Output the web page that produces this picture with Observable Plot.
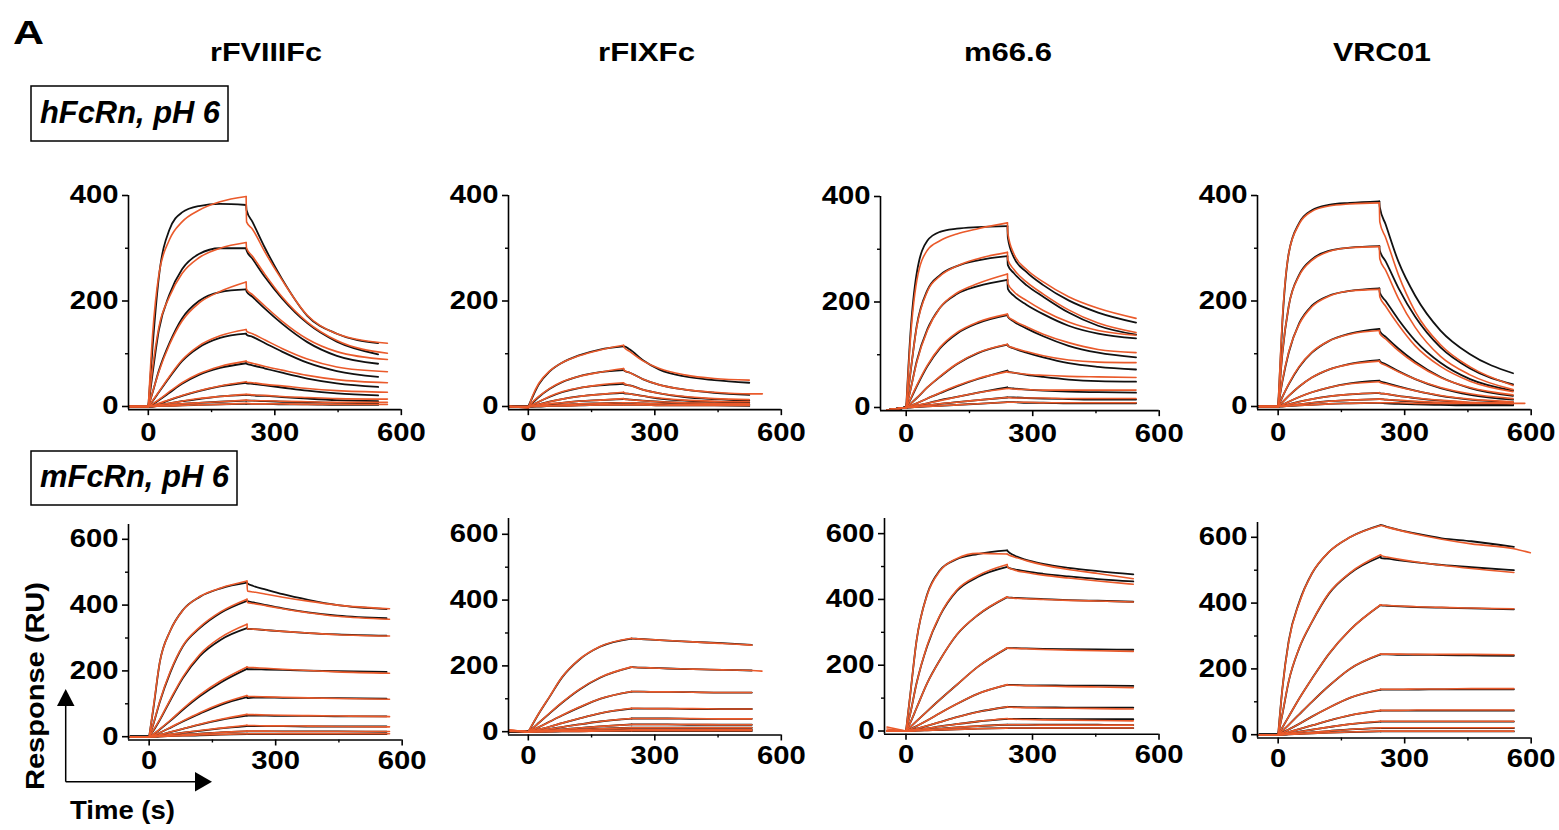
<!DOCTYPE html>
<html><head><meta charset="utf-8">
<script src="https://cdn.jsdelivr.net/npm/d3@7"></script>
<script src="https://cdn.jsdelivr.net/npm/@observablehq/plot@0.6"></script>
<style>
html,body{margin:0;padding:0;background:#fff;}
body{width:1559px;height:830px;position:relative;overflow:hidden;font-family:"Liberation Sans",Arial,sans-serif;}
.panel{position:absolute;}
.panel svg{max-width:none !important;overflow:visible;}
#overlay{position:absolute;left:0;top:0;pointer-events:none;}
</style></head><body>
<script>
// ---------- labels & ticks ----------
const antibodies = ["rFVIIIFc", "rFIXFc", "m66.6", "VRC01"];
const receptors = ["hFcRn, pH 6", "mFcRn, pH 6"];
const yTicksTop = [0, 200, 400], yMinorTop = [100, 300];
const yTicksBottom = [0, 200, 400, 600], yMinorBottom = [100, 300, 500];
const xTicks = [0, 300, 600], xMinor = [150, 450];

// ---------- time grid (s) ----------
const assocTimes = [-45, 0, 10, 25, 50, 80, 120, 170];      // then end of injection
const dissOffsets = [1, 15, 45, 85, 145, 215];              // seconds after end of injection, then end
const injectionEnd = [232, 226, 240, 240, 232, 245, 240, 243];
const dataEnd      = [545, 524, 545, 557, 563, 530, 539, 559];
const fitEnd       = [567, 524, 545, 557, 570, 530, 539, 559];
// [curve index, time, response] of a fit line drawn a little longer than the others
const fitExtension = [null, [1, 555, 24], null, [8, 585, 6], null, [1, 554, 184], null, [0, 598, 553]];

// ---------- responses (RU) : each row = one concentration ----------
// columns: -45, 0, 10, 25, 50, 80, 120, 170, E, E+1, E+15, E+45, E+85, E+145, E+215, end
const rFVIIIFc_h_data = [
 [0,0,112,245,335,368,380,384,382,372,350,300,242,172,138,120],
 [0,0,62,145,212,260,289,300,300,296,280,245,205,158,123,99],
 [0,0,26,68,120,167,200,217,222,218,208,185,157,122,96,81],
 [0,0,10,27,55,86,112,130,138,136,132,120,104,83,67,56],
 [0,0,4,12,26,43,60,73,82,81,78,72,64,53,44,37],
 [0,0,2,5,12,20,29,38,45,44,43,40,36,30,25,21],
 [0,0,1,3,6,10,14,19,22,22,21,20,18,15,12,10],
 [0,0,0,1,3,5,7,9,11,11,11,10,9,8,7,6],
 [0,0,0,1,1,2,3,4,5,5,5,5,4,4,3,3]];
const rFVIIIFc_h_fit = [
 [0,0,135,250,316,350,372,388,398,350,336,292,240,173,138,120],
 [0,0,72,150,208,252,282,300,311,300,285,250,208,160,125,101],
 [0,0,27,66,117,162,196,218,236,222,212,190,162,128,104,89],
 [0,0,11,28,57,88,115,134,146,143,138,126,110,90,75,66],
 [0,0,5,13,28,45,62,76,86,85,82,76,69,59,51,45],
 [0,0,2,6,13,21,30,39,47,46,45,42,39,34,30,27],
 [0,0,1,3,6,10,15,19,23,23,22,21,19,17,15,14],
 [0,0,0,1,3,5,7,9,12,12,11,11,10,9,8,8],
 [0,0,0,1,1,2,3,4,6,6,5,5,5,4,4,4]];

const rFIXFc_h_data = [
 [0,0,18,42,66,83,97,108,114,114,108,88,70,57,50,45],
 [0,0,7,18,33,46,57,65,69,68,64,52,41,32,26,22],
 [0,0,3,9,18,27,35,40,43,42,40,32,25,18,14,11],
 [0,0,1,4,9,14,19,23,26,25,24,20,15,11,9,7],
 [0,0,1,2,4,7,10,12,14,14,13,11,9,7,5,4],
 [0,0,0,1,2,3,5,6,7,7,7,6,5,4,3,3],
 [0,0,0,0,1,1,2,3,3,3,3,3,2,2,2,1]];
const rFIXFc_h_fit = [
 [0,-3,20,44,67,83,96,107,116,112,104,87,72,60,53,50],
 [0,-3,8,19,34,47,57,65,72,69,64,52,41,32,27,24],
 [0,-2,3,9,19,28,35,41,45,43,40,32,25,19,15,13],
 [0,-1,1,4,9,14,19,23,27,26,24,20,16,12,10,9],
 [0,0,1,2,5,7,10,12,15,14,13,11,9,7,6,5],
 [0,0,0,1,2,3,5,6,7,7,7,6,5,4,4,3],
 [0,0,0,0,1,1,2,3,3,3,3,3,2,2,2,2]];

const m666_h_data = [
 [-5,0,140,255,316,333,339,342,344,322,285,257,232,203,180,161],
 [-5,0,65,155,222,251,268,279,287,270,255,232,210,180,155,138],
 [-5,0,33,88,148,189,215,230,242,225,212,195,177,155,140,131],
 [-5,0,15,40,78,112,140,160,175,172,163,150,135,117,104,95],
 [-5,0,7,18,38,58,82,103,119,117,112,104,95,84,77,72],
 [-5,0,3,8,17,27,40,54,70,68,66,62,58,53,50,49],
 [-5,0,1,4,8,14,20,28,38,37,36,34,32,30,29,28],
 [-5,0,1,2,4,7,10,14,19,19,19,18,17,16,15,15],
 [-5,0,0,1,2,3,5,7,10,10,10,9,9,8,8,8]];
const m666_h_fit = [
 [-5,0,130,240,298,316,329,339,350,330,292,262,238,210,188,169],
 [-5,0,66,153,220,249,268,282,294,280,262,238,215,185,160,142],
 [-5,0,33,86,146,189,217,235,253,235,220,203,184,162,146,137],
 [-5,0,16,42,80,114,142,162,177,173,165,153,139,123,110,104],
 [-5,0,7,18,38,59,83,104,120,117,113,106,98,90,86,85],
 [-5,0,3,8,17,28,41,55,68,67,66,63,61,59,58,57],
 [-5,0,1,4,8,13,20,28,36,36,35,34,33,33,33,33],
 [-5,0,1,2,4,7,10,14,19,19,18,18,18,17,17,17],
 [-5,0,0,1,2,3,5,7,10,10,10,10,9,9,9,9]];

const VRC01_h_data = [
 [0,0,160,290,348,372,382,386,389,378,345,275,210,144,99,63],
 [0,0,100,190,250,279,295,301,304,296,275,225,170,112,72,42],
 [0,0,47,102,158,191,210,219,224,216,200,165,125,83,52,30],
 [0,0,18,42,75,102,124,138,147,143,132,110,85,56,35,20],
 [0,0,8,20,38,55,70,81,88,86,80,67,52,35,22,13],
 [0,0,3,9,18,27,36,44,49,48,45,38,30,20,13,8],
 [0,0,1,4,9,14,19,23,26,25,24,20,16,11,7,4],
 [0,0,1,2,4,7,10,12,14,14,13,11,9,6,4,3],
 [0,0,0,1,2,3,5,6,7,7,6,5,4,3,2,2]];
const VRC01_h_fit = [
 [0,0,165,290,346,370,380,384,386,350,320,250,180,117,75,40],
 [0,0,102,190,248,277,294,301,303,280,258,205,150,95,60,32],
 [0,0,49,103,156,189,209,219,222,208,190,155,115,76,48,28],
 [0,0,18,43,76,103,124,137,144,138,128,106,82,55,36,22],
 [0,0,8,20,38,55,70,80,86,84,78,66,52,36,24,15],
 [0,0,3,9,18,27,36,43,47,46,43,37,30,21,14,9],
 [0,0,1,4,9,14,19,23,26,25,24,20,16,12,8,6],
 [0,0,1,2,4,7,10,12,14,14,13,12,10,8,7,6],
 [0,0,0,1,2,3,5,6,7,7,7,7,6,6,6,6]];

const rFVIIIFc_m_data = [
 [0,0,85,225,322,385,425,451,468,466,458,447,433,416,400,388],
 [0,0,38,105,195,275,330,377,413,412,408,400,390,378,368,360],
 [0,0,18,50,110,178,245,295,330,328,327,324,320,315,311,307],
 [0,0,7,22,48,82,123,165,206,205,205,204,203,201,199,197],
 [0,0,4,12,27,46,70,97,120,117,119,119,118,118,117,116],
 [0,0,2,6,14,24,37,51,64,64,64,64,63,63,62,62],
 [0,0,1,3,7,12,18,25,32,32,32,32,32,31,31,31],
 [0,0,0,1,3,6,9,13,16,16,16,16,16,16,16,15],
 [0,0,0,1,2,3,4,6,8,8,8,8,8,8,8,8]];
const rFVIIIFc_m_fit = [
 [0,0,90,225,322,384,426,452,473,443,440,433,424,412,400,389],
 [0,0,40,107,198,277,333,380,418,408,405,398,389,377,366,357],
 [0,0,20,52,113,182,250,302,342,328,327,324,320,315,310,306],
 [0,0,8,23,50,85,127,170,212,211,210,208,205,201,197,193],
 [0,0,4,12,28,48,73,100,125,123,122,121,120,118,116,114],
 [0,0,2,6,14,24,38,53,68,67,67,66,65,64,63,61],
 [0,0,1,3,7,12,19,26,35,34,34,33,33,32,31,30],
 [0,0,0,1,3,6,9,13,17,17,17,17,16,16,16,16],
 [0,0,0,1,2,3,5,7,9,9,9,9,9,9,9,9]];

const rFIXFc_m_data = [
 [2,0,22,55,105,165,218,258,283,283,282,280,277,273,269,264],
 [1,0,10,27,55,88,127,164,196,196,195,194,192,190,188,186],
 [0,0,5,14,30,49,73,100,122,122,122,121,121,120,119,119],
 [0,0,2,7,15,26,40,56,70,70,70,70,70,69,69,69],
 [0,0,1,4,8,14,22,31,40,40,40,40,40,39,39,39],
 [0,0,1,2,4,7,11,16,22,22,22,22,22,21,21,21],
 [0,0,0,1,2,4,6,9,12,12,12,12,12,12,12,12],
 [0,0,0,0,1,2,3,4,6,6,6,6,6,6,6,6],
 [0,0,0,0,0,1,1,2,2,2,2,2,2,2,2,2]];
const rFIXFc_m_fit = [
 [5,0,23,56,106,166,219,259,284,283,282,280,277,273,268,263],
 [5,0,10,27,56,89,128,165,197,196,195,194,192,190,188,186],
 [4,0,5,14,30,50,74,100,122,122,122,121,121,120,119,119],
 [4,0,2,7,15,26,40,56,71,71,71,70,70,70,69,69],
 [3,0,1,4,8,14,22,31,40,40,40,40,40,40,39,39],
 [3,0,1,2,4,7,11,16,22,22,22,22,22,22,21,21],
 [2,0,0,1,2,4,6,9,12,12,12,12,12,12,12,12],
 [2,0,0,0,1,2,3,4,6,6,6,6,6,6,6,6],
 [1,0,0,0,0,1,1,2,3,3,3,3,3,3,3,3]];

const m666_m_data = [
 [0,0,110,275,415,488,522,538,549,547,535,520,508,496,486,476],
 [0,0,52,145,257,349,425,468,499,498,492,485,478,470,462,455],
 [0,0,25,70,145,215,292,352,407,406,405,403,401,398,396,393],
 [0,0,12,30,60,95,140,195,252,252,252,251,250,249,248,247],
 [0,0,5,15,32,54,82,113,140,140,140,139,139,138,138,137],
 [0,0,2,7,16,27,42,58,73,73,73,72,72,71,71,71],
 [0,0,1,4,8,14,21,29,37,37,37,37,36,36,36,36],
 [0,0,0,2,4,7,11,15,19,19,19,19,19,19,19,18],
 [0,0,0,1,2,3,5,7,9,9,9,9,9,9,9,9]];
const m666_m_fit = [
 [12,0,110,275,413,486,524,540,538,537,530,518,505,491,479,463],
 [6,0,52,145,259,351,428,472,506,498,490,482,474,465,456,446],
 [0,0,25,70,145,215,293,353,408,406,404,402,400,397,395,392],
 [0,0,12,30,60,95,140,195,253,252,251,250,248,246,244,242],
 [0,0,5,15,32,54,82,113,141,140,139,138,137,135,134,132],
 [0,0,2,7,16,27,42,58,74,73,72,71,70,69,68,67],
 [0,0,1,4,8,14,21,29,38,37,36,35,34,33,32,31],
 [0,0,0,2,4,7,11,15,19,19,19,19,18,18,18,18],
 [0,0,0,1,2,3,5,7,9,9,9,9,9,9,9,9]];

const VRC01_m_data = [
 [0,0,140,285,403,490,555,600,637,637,632,622,611,597,588,571],
 [0,0,62,162,263,342,428,490,541,537,535,530,524,516,509,500],
 [0,0,22,55,110,170,245,318,394,393,392,390,388,386,384,381],
 [0,0,12,30,62,100,148,200,244,244,244,243,243,242,241,240],
 [0,0,6,16,33,55,82,112,137,137,137,137,137,138,138,138],
 [0,0,3,8,17,28,43,59,73,73,73,73,73,73,73,73],
 [0,0,1,4,9,15,23,32,40,40,40,40,40,40,40,40],
 [0,0,0,2,4,7,11,16,20,20,20,20,20,20,20,20],
 [0,0,0,1,2,4,6,8,10,10,10,10,10,10,10,10]];
const VRC01_m_fit = [
 [0,0,140,283,401,490,555,600,636,636,631,621,609,594,580,565],
 [0,0,63,163,264,343,430,492,547,545,540,533,525,515,505,493],
 [0,0,22,55,110,170,245,318,395,394,393,391,389,387,385,383],
 [0,0,12,30,62,100,148,200,245,245,245,245,244,244,244,243],
 [0,0,6,16,33,55,82,112,138,138,138,138,139,139,140,140],
 [0,0,3,8,17,28,43,59,74,74,74,74,75,75,75,75],
 [0,0,1,4,9,15,23,32,41,41,41,41,41,41,41,41],
 [0,0,0,2,4,7,11,16,21,21,21,21,21,21,21,21],
 [0,0,0,1,2,4,6,8,11,11,11,11,11,11,11,11]];

const panelData = [
 [rFVIIIFc_h_data, rFVIIIFc_h_fit], [rFIXFc_h_data, rFIXFc_h_fit], [m666_h_data, m666_h_fit], [VRC01_h_data, VRC01_h_fit],
 [rFVIIIFc_m_data, rFVIIIFc_m_fit], [rFIXFc_m_data, rFIXFc_m_fit], [m666_m_data, m666_m_fit], [VRC01_m_data, VRC01_m_fit]];

// ---------- layout (page pixels) ----------
const PX_PER_S = 0.4217;
const layout = [
 {x0:147.7, xMin:-47, y0:406,   k:0.5275, yMin:-6,  yMax:400},
 {x0:527.7, xMin:-47, y0:406,   k:0.5275, yMin:-6,  yMax:400},
 {x0:905.7, xMin:-61, y0:406.7, k:0.5275, yMin:-6,  yMax:400},
 {x0:1277.3,xMin:-49, y0:406,   k:0.5275, yMin:-6,  yMax:400},
 {x0:148.3, xMin:-49, y0:736,   k:0.329,  yMin:-10, yMax:645},
 {x0:527.7, xMin:-47, y0:730.7, k:0.329,  yMin:-10, yMax:648},
 {x0:905.7, xMin:-51, y0:730.7, k:0.329,  yMin:-10, yMax:646},
 {x0:1277.3,xMin:-49, y0:734,   k:0.329,  yMin:-10, yMax:645}];

const DATA_COLOR = "#111111", FIT_COLOR = "#ea5a2b";
const FONT = "'Liberation Sans', Arial, Helvetica, sans-serif";
const LABEL_STRETCH = 1.17;

function buildRows(curves, kind, pi) {
  const E = injectionEnd[pi];
  const T = [...assocTimes, E, ...dissOffsets.map(o => E + o), kind === "fit" ? fitEnd[pi] : dataEnd[pi]];
  const rows = [];
  curves.forEach((vals, ci) => {
    const seg = (name, a, b) => { for (let j = a; j <= b; j++) rows.push({t: T[j], v: vals[j], key: ci + name}); };
    seg("b", 0, 1); seg("a", 1, 8); seg("d", 8, 15);
    const ext = fitExtension[pi];
    if (kind === "fit" && ext && ext[0] === ci) rows.push({t: ext[1], v: ext[2], key: ci + "d"});
  });
  return rows;
}

const mL = 72, mR = 34, mT = 12, mB = 48;
layout.forEach((L, pi) => {
  const top = pi < 4;
  const [data, fit] = panelData[pi];
  const W = mL + (600 - L.xMin) * PX_PER_S + mR;
  const H = mT + (L.yMax - L.yMin) * L.k + mB;
  const left = L.x0 + L.xMin * PX_PER_S - mL;
  const topPx = L.y0 - L.yMax * L.k - mT;
  const axisText = {fontSize: 25, fontWeight: "bold", fontFamily: FONT};
  const chart = Plot.plot({
    width: W, height: H, marginLeft: mL, marginRight: mR, marginTop: mT, marginBottom: mB,
    style: {fontFamily: FONT, fontWeight: "bold", fontSize: "25px", background: "transparent", overflow: "visible"},
    x: {domain: [L.xMin, 600], axis: null, label: null},
    y: {domain: [L.yMin, L.yMax], axis: null, label: null},
    marks: [
      Plot.line(buildRows(data, "data", pi), {x: "t", y: "v", z: "key", stroke: DATA_COLOR, strokeWidth: 1.8, curve: "monotone-x"}),
      Plot.line(buildRows(fit, "fit", pi), {x: "t", y: "v", z: "key", stroke: FIT_COLOR, strokeWidth: 1.6, curve: "monotone-x"}),
      Plot.ruleX([L.xMin], {y1: L.yMin, y2: L.yMax, stroke: "#000", strokeWidth: 1.6}),
      Plot.ruleY([L.yMin], {x1: L.xMin, x2: 600, stroke: "#000", strokeWidth: 1.6}),
      Plot.axisY(top ? yTicksTop : yTicksBottom, {tickSize: 6, tickPadding: 4, strokeWidth: 1.6, label: null, ...axisText}),
      Plot.axisY(top ? yMinorTop : yMinorBottom, {tickSize: 3, strokeWidth: 1.4, label: null, tickFormat: () => ""}),
      Plot.axisX(xTicks, {tickSize: 6, tickPadding: top ? 8 : 5, strokeWidth: 1.6, label: null, ...axisText}),
      Plot.axisX(xMinor, {tickSize: 3, strokeWidth: 1.4, label: null, tickFormat: () => ""})
    ]
  });
  const div = document.createElement("div");
  div.className = "panel";
  div.style.left = left + "px";
  div.style.top = topPx + "px";
  div.style.width = W + "px";
  div.style.height = H + "px";
  div.appendChild(chart);
  document.body.appendChild(div);
  // widen the bold tick numerals a little, as in the original figure
  d3.select(chart).selectAll("text").each(function() {
    const w = this.getComputedTextLength();
    if (w > 0) { this.setAttribute("textLength", w * LABEL_STRETCH); this.setAttribute("lengthAdjust", "spacingAndGlyphs"); }
  });
});

// ---------- annotations ----------
const svg = d3.select("body").append("svg").attr("id", "overlay")
  .attr("width", 1559).attr("height", 830).attr("font-family", FONT).attr("font-weight", "bold");

svg.append("text").attr("x", 13).attr("y", 44).attr("font-size", 33)
  .attr("textLength", 31).attr("lengthAdjust", "spacingAndGlyphs").text("A");

const titleX = [266, 646.5, 1008, 1382], titleLen = [112, 97, 88, 98];
antibodies.forEach((name, i) => {
  svg.append("text").attr("x", titleX[i]).attr("y", 61).attr("text-anchor", "middle")
    .attr("font-size", 26).attr("textLength", titleLen[i]).attr("lengthAdjust", "spacingAndGlyphs").text(name);
});

const boxes = [{x: 31, y: 86, w: 197, h: 55, tx: 40, ty: 123, len: 180},
               {x: 31, y: 451, w: 206, h: 54, tx: 40, ty: 487, len: 189}];
receptors.forEach((name, i) => {
  const b = boxes[i];
  svg.append("rect").attr("x", b.x).attr("y", b.y).attr("width", b.w).attr("height", b.h)
    .attr("fill", "none").attr("stroke", "#000").attr("stroke-width", 1.5);
  svg.append("text").attr("x", b.tx).attr("y", b.ty).attr("font-size", 32).attr("font-style", "italic")
    .attr("textLength", b.len).attr("lengthAdjust", "spacingAndGlyphs").text(name);
});

svg.append("text").attr("transform", "translate(44,686) rotate(-90)").attr("text-anchor", "middle")
  .attr("font-size", 26).attr("textLength", 208).attr("lengthAdjust", "spacingAndGlyphs").text("Response (RU)");
svg.append("text").attr("x", 70).attr("y", 818.5).attr("font-size", 25.5)
  .attr("textLength", 105).attr("lengthAdjust", "spacingAndGlyphs").text("Time (s)");

// axis arrows
svg.append("path").attr("d", "M65.7,781.7 V704 M65.7,781.7 H196").attr("stroke", "#000").attr("stroke-width", 1.5).attr("fill", "none");
svg.append("path").attr("d", "M65.7,689 L74.5,706 L57,706 Z").attr("fill", "#000");
svg.append("path").attr("d", "M212,781.7 L195,772 L195,791.4 Z").attr("fill", "#000");
</script>
</body></html>
